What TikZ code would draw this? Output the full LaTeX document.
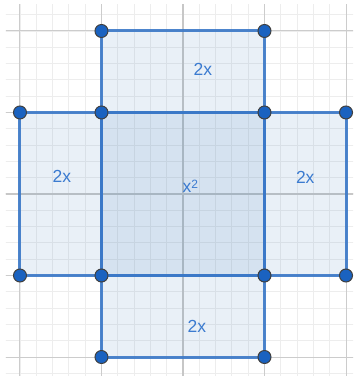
\documentclass[tikz,border=0pt]{standalone}
\usepackage{fontspec}
\setmainfont{Liberation Sans}
\definecolor{dblue}{HTML}{2D70B3}
\definecolor{eblue}{HTML}{3A78C8}
\definecolor{tblue}{HTML}{3B7BD0}
\definecolor{ptblue}{HTML}{1A62C0}
\definecolor{majgrid}{HTML}{CCCCCC}
\definecolor{mingrid}{HTML}{EDEDED}
\begin{document}
\begin{tikzpicture}[x=81.5pt,y=81.5pt,
  pt/.style={circle,fill=ptblue,draw=black!75,line width=1pt,inner sep=0pt,minimum size=13pt},
  region/.style={fill=dblue,fill opacity=0.1},
  edge/.style={draw=eblue,line width=3pt,opacity=0.9},
  lab/.style={text=tblue,font=\fontsize{17.5}{20}\selectfont}]
\fill[white] (-2.245,-2.233) rectangle (2.086,2.380);
\useasboundingbox (-2.245,-2.233) rectangle (2.086,2.380);
\begin{scope}
\clip (-2.172,-2.233) rectangle (2.086,2.319);
\draw[mingrid,line width=0.8pt,step=0.2] (-3,-3) grid (3,3);
\draw[majgrid,line width=1pt,step=1] (-3,-3) grid (3,3);
\draw[black!22,line width=1.1pt] (0,-3) -- (0,3) (-3,0) -- (3,0);
\end{scope}
% points
\coordinate (t1) at (-1,2); \coordinate (t2) at (1,2);
\coordinate (l1) at (-2,1); \coordinate (c1) at (-1,1); \coordinate (c2) at (1,1); \coordinate (r1) at (2,1);
\coordinate (l2) at (-2,-1); \coordinate (c3) at (-1,-1); \coordinate (c4) at (1,-1); \coordinate (r2) at (2,-1);
\coordinate (b1) at (-1,-2); \coordinate (b2) at (1,-2);
% regions
\fill[region] (l1) -- (r1) -- (r2) -- (l2) -- cycle;
\fill[region] (t1) -- (t2) -- (b2) -- (b1) -- cycle;
% edges
\draw[edge] (t1) -- (t2) -- (c2) -- (c1) -- cycle;
\draw[edge] (l1) -- (c1) -- (c3) -- (l2) -- cycle;
\draw[edge] (c2) -- (r1) -- (r2) -- (c4) -- cycle;
\draw[edge] (c3) -- (c4) -- (b2) -- (b1) -- cycle;
\draw[edge] (c1) -- (c2) -- (c4) -- (c3) -- cycle;
% labels
\node[lab] (lt) at (0.245,1.53) {2x};
\node[lab] (ll) at (-1.485,0.21) {2x};
\node[lab] (lc) at (0.09,0.09) {x\raisebox{0.45ex}{\fontsize{12}{14}\selectfont 2}};
\node[lab] (lr) at (1.5,0.2) {2x};
\node[lab] (lb) at (0.17,-1.62) {2x};
% point markers
\foreach \p in {t1,t2,l1,c1,c2,r1,l2,c3,c4,r2,b1,b2}
  \node[pt] (p\p) at (\p) {};
\end{tikzpicture}
\end{document}
